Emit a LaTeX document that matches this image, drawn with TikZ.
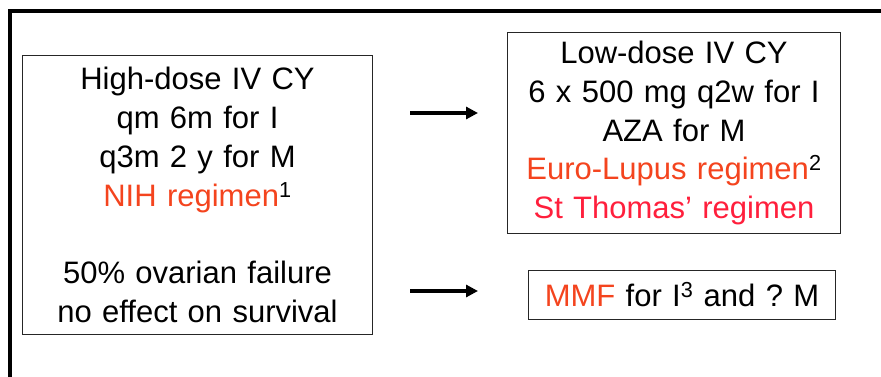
\documentclass[tikz,border=0pt]{standalone}
\usepackage{fontspec}
\setmainfont{Liberation Sans}
\usepackage{xcolor}
\usepackage{tikz}
\usetikzlibrary{arrows.meta}
\frenchspacing
\definecolor{regorange}{HTML}{F4441E}
\definecolor{regred}{HTML}{FF1F3C}
\tikzset{
  regbox/.style={draw=black!85, line width=1pt, inner sep=0pt, align=center,
    anchor=north west, font=\fontsize{31}{38.8}\selectfont},
  fatarrow/.style={line width=3.5pt, -{Triangle[length=12pt,width=12pt]}}
}

\begin{document}
\begin{tikzpicture}[x=1pt, y=-1pt]
\useasboundingbox (0,0) rectangle (881,377);
\draw[line width=4pt] (10,380) -- (10,11.5) -- (884,11.5);
\node[regbox, text width=350pt, minimum height=279pt] (high) at (22,55)
  {High-dose IV CY\\qm 6m for I\\q3m 2 y for M\\
   \textcolor{regorange}{NIH regimen}\textsuperscript{1}\\[38.8pt]
   50\% ovarian failure\\no effect on survival};
\node[regbox, text width=333pt, minimum height=201pt] (low) at (507,32)
  {Low-dose IV CY\\6 x 500 mg q2w for I\\AZA for M\\
   \textcolor{regorange}{Euro-Lupus regimen}\textsuperscript{2}\\
   \textcolor{regred}{St Thomas’ regimen}};
\node[regbox, text width=307pt, minimum height=49pt] (mmf) at (528,270)
  {\textcolor{regorange}{MMF} for I\textsuperscript{3} and ? M};
\coordinate (t1) at (410,113);
\coordinate (t2) at (478,113);
\coordinate (b1) at (410,291);
\coordinate (b2) at (478,291);
\draw[fatarrow] (t1) -- (t2);
\draw[fatarrow] (b1) -- (b2);
\end{tikzpicture}
\end{document}
